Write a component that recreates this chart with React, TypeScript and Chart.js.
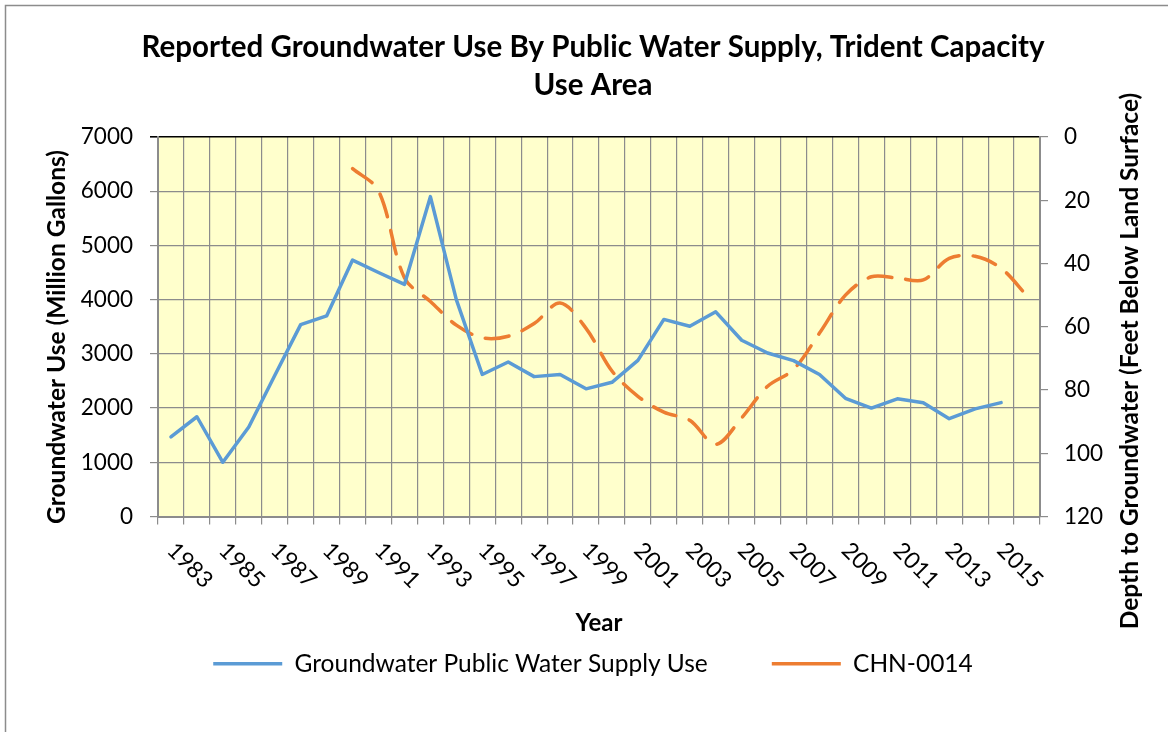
import { useEffect, useRef } from 'react';
import { Chart, registerables } from 'chart.js';

Chart.register(...registerables);

const YEARS = [
  1983, 1984, 1985, 1986, 1987, 1988, 1989, 1990, 1991, 1992, 1993, 1994,
  1995, 1996, 1997, 1998, 1999, 2000, 2001, 2002, 2003, 2004, 2005, 2006,
  2007, 2008, 2009, 2010, 2011, 2012, 2013, 2014, 2015, 2016,
];

// Groundwater Public Water Supply Use (million gallons)
const PUBLIC_SUPPLY_USE = [
  1470, 1840, 1000, 1650, 2600, 3540, 3700, 4730, 4500, 4280, 5900, 4000,
  2620, 2850, 2580, 2620, 2355, 2475, 2880, 3635, 3510, 3775, 3250, 3015,
  2875, 2620, 2180, 2000, 2170, 2100, 1805, 1985, 2100, null,
];

// CHN-0014 depth to groundwater (feet below land surface)
const CHN_0014_DEPTH = [
  null, null, null, null, null, null, null, 10, 17, 44.5, 52, 59.5,
  63.5, 63, 59, 52.5, 60.5, 74, 82, 87, 89.6, 97.2, 88.8, 78.8,
  73.5, 62, 50, 44.2, 44.6, 45.2, 38.4, 37.7, 41.5, 50.2,
];

const TITLE_LINES = [
  'Reported Groundwater Use By Public Water Supply, Trident Capacity',
  'Use Area',
];
const X_TITLE = 'Year';
const Y_TITLE = 'Groundwater Use (Million Gallons)';
const Y1_TITLE = 'Depth to Groundwater (Feet Below Land Surface)';
const SERIES_NAMES = ['Groundwater Public Water Supply Use', 'CHN-0014'];

const FONT = 'Lato';
const GRID = '#8c8c8c';

const decorPlugin = {
  id: 'decor',
  beforeDraw(chart: any) {
    const { ctx, chartArea: a } = chart;
    ctx.save();
    ctx.fillStyle = '#ffffff';
    ctx.fillRect(0, 0, chart.width, chart.height);
    ctx.strokeStyle = '#8c8c8c';
    ctx.lineWidth = 1.5;
    ctx.strokeRect(5.5, 5.5, chart.width + 40, chart.height + 40);
    ctx.fillStyle = '#FFFFCC';
    ctx.fillRect(a.left, a.top, a.right - a.left, a.bottom - a.top);
    ctx.restore();
  },
  afterDraw(chart: any) {
    const { ctx, chartArea: a } = chart;
    const xs = chart.scales.x;
    ctx.save();
    ctx.fillStyle = '#000';
    // rotated category labels (every other year)
    ctx.font = `23px ${FONT}`;
    ctx.textAlign = 'left';
    ctx.textBaseline = 'middle';
    YEARS.forEach((yr, i) => {
      if (i % 2 !== 0) return;
      const px = xs.getPixelForTick(i);
      ctx.save();
      ctx.translate(px, xs.top + 30);
      ctx.rotate(Math.PI / 4);
      ctx.fillText(String(yr), 0, 0);
      ctx.restore();
    });
    // axis titles
    ctx.font = `bold 24px ${FONT}`;
    ctx.textAlign = 'center';
    ctx.fillText(X_TITLE, (a.left + a.right) / 2, 623);
    ctx.font = `bold 24.5px ${FONT}`;
    ctx.save();
    ctx.translate(57, 337);
    ctx.rotate(-Math.PI / 2);
    ctx.fillText(Y_TITLE, 0, 0);
    ctx.restore();
    ctx.save();
    ctx.translate(1130, 361);
    ctx.rotate(-Math.PI / 2);
    ctx.fillText(Y1_TITLE, 0, 0);
    ctx.restore();
    ctx.restore();
  },
};

export default function App() {
  const ref = useRef<HTMLCanvasElement | null>(null);

  useEffect(() => {
    document.body.style.margin = '0';
    const canvas = ref.current;
    if (!canvas) return;
    const chart = new Chart(canvas, {
      type: 'line',
      data: {
        labels: YEARS.map(String),
        datasets: [
          {
            label: SERIES_NAMES[0],
            data: PUBLIC_SUPPLY_USE,
            yAxisID: 'y',
            borderColor: '#5B9BD5',
            backgroundColor: '#5B9BD5',
            borderWidth: 3.5,
            borderJoinStyle: 'round',
            borderCapStyle: 'round',
            pointRadius: 0,
            pointHoverRadius: 0,
            pointStyle: 'line',
            tension: 0,
          },
          {
            label: SERIES_NAMES[1],
            data: CHN_0014_DEPTH,
            yAxisID: 'y1',
            borderColor: '#ED7D31',
            backgroundColor: '#ED7D31',
            borderWidth: 3.5,
            borderDash: [24, 14],
            borderCapStyle: 'round',
            pointRadius: 0,
            pointHoverRadius: 0,
            pointStyle: 'line',
            tension: 0.33,
          },
        ],
      },
      options: {
        animation: false,
        responsive: false,
        devicePixelRatio: 1,
        layout: { padding: { left: 18, right: 0, top: 0, bottom: 46 } },
        plugins: {
          title: {
            display: true,
            text: TITLE_LINES,
            color: '#000',
            font: { family: FONT, size: 29.5, weight: 'bold', lineHeight: '38px' },
            padding: { top: 28, bottom: 33 },
          },
          legend: {
            position: 'bottom',
            labels: {
              usePointStyle: true,
              pointStyleWidth: 69,
              padding: 64,
              color: '#000',
              font: { family: FONT, size: 24.5 },
            },
          },
          tooltip: { enabled: false },
        },
        scales: {
          x: {
            type: 'category',
            offset: true,
            grid: { offset: true, color: GRID, lineWidth: 1.2, tickLength: 8, drawTicks: true },
            border: { color: GRID, width: 2 },
            ticks: { display: false, autoSkip: false },
            afterFit: (s: any) => { s.height = 71; },
          },
          y: {
            position: 'left',
            min: 0,
            max: 7000,
            ticks: {
              stepSize: 1000,
              padding: 17,
              color: '#000',
              font: { family: FONT, size: 22.5 },
              callback: (v: any) => String(v),
            },
            grid: {
              color: (c: any) => (c.tick && c.tick.value === 7000 ? '#000' : GRID),
              lineWidth: (c: any) => (c.tick && c.tick.value === 7000 ? 1.6 : 1.2),
              tickLength: 8,
            },
            border: { color: GRID, width: 2 },
            afterFit: (s: any) => { s.width = 140; },
          },
          y1: {
            position: 'right',
            min: 0,
            max: 120,
            reverse: true,
            ticks: {
              stepSize: 20,
              padding: 16,
              color: '#000',
              font: { family: FONT, size: 22.5 },
              callback: (v: any) => String(v),
            },
            grid: { drawOnChartArea: false, color: GRID, lineWidth: 1.2, tickLength: 8 },
            border: { color: GRID, width: 2 },
            afterFit: (s: any) => { s.width = 128; },
          },
        },
      },
      plugins: [decorPlugin],
    } as any);
    return () => chart.destroy();
  }, []);

  return (
    <div style={{ width: 1168, height: 732 }}>
      <canvas ref={ref} width={1168} height={732} />
    </div>
  );
}
